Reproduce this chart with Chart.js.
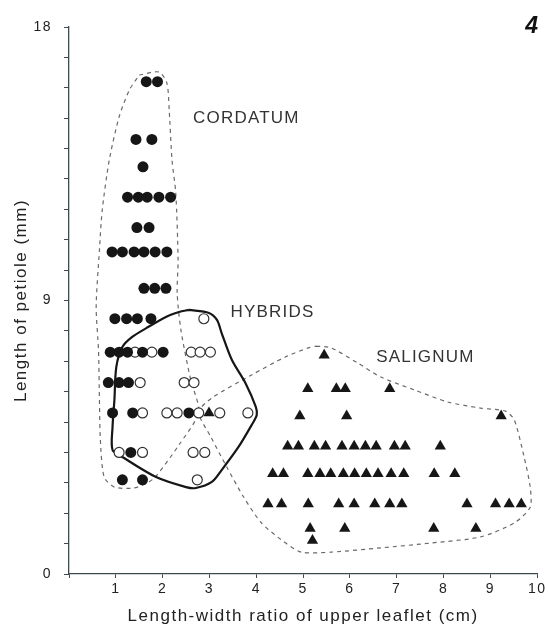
<!DOCTYPE html>
<html>
<head>
<meta charset="utf-8">
<script src="https://cdn.jsdelivr.net/npm/chart.js@4.4.4/dist/chart.umd.min.js"></script>
<style>
  html, body { margin: 0; padding: 0; background: #fff; }
  #chart { display: block; }
</style>
</head>
<body>
<canvas id="chart" width="548" height="629" style="width:548px;height:629px"></canvas>
<script>
// rows of petiole length (mm) and the leaflet ratios measured in each row
const cordatumRows = [16.2, 14.3, 13.4, 12.4, 11.4, 10.6, 9.4, 8.4, 7.3, 6.3, 5.3, 4.0, 3.1];
const cordatumRatios = [
    [1.65, 1.89],
    [1.43, 1.77],
    [1.58],
    [1.25, 1.48, 1.67, 1.92, 2.17],
    [1.45, 1.71],
    [0.92, 1.14, 1.39, 1.60, 1.84, 2.09],
    [1.60, 1.83, 2.07],
    [0.98, 1.23, 1.46, 1.75],
    [0.88, 1.07, 1.25, 1.57, 2.01],
    [0.84, 1.07, 1.27],
    [0.93, 1.36, 2.56],
    [1.32],
    [1.14, 1.57]
];

const hybridRows = [8.4, 7.3, 6.3, 5.3, 4.0, 3.1];
const hybridRatios = [
    [2.88],
    [1.41, 1.77, 2.61, 2.80, 3.02],
    [1.52, 2.46, 2.67],
    [1.57, 2.09, 2.31, 2.77, 3.22, 3.82],
    [1.07, 1.57, 2.65, 2.90],
    [2.74]
];

const salignumRows = [7.2, 6.1, 5.2, 5.3, 4.2, 3.3, 2.3, 1.5, 1.1];
const salignumRatios = [
    [5.45],
    [5.10, 5.71, 5.90, 6.85],
    [4.93, 5.93, 9.23],
    [2.99],
    [4.67, 4.90, 5.24, 5.48, 5.83, 6.09, 6.33, 6.56, 6.95, 7.18, 7.93],
    [4.35, 4.58, 5.10, 5.36, 5.59, 5.86, 6.10, 6.35, 6.60, 6.88, 7.15, 7.80, 8.24],
    [4.25, 4.54, 5.11, 5.76, 6.09, 6.53, 6.85, 7.11, 8.50, 9.11, 9.40, 9.66],
    [5.15, 5.89, 7.79, 8.69],
    [5.20]
];

// hand-drawn group envelopes (ratio, mm)
const cordatumOutline = [
    [1.50, 16.42], [1.92, 16.52], [2.09, 16.16], [2.14, 15.27], [2.20, 13.62], [2.28, 12.54],
    [2.33, 10.33], [2.31, 9.25], [2.39, 8.03], [2.60, 6.38], [2.77, 5.33], [2.35, 4.25],
    [1.86, 3.22], [1.71, 3.03], [1.39, 2.83], [0.97, 2.86], [0.75, 3.19], [0.67, 4.41],
    [0.65, 5.73], [0.63, 7.37], [0.58, 8.79], [0.65, 10.66], [0.71, 11.98], [0.86, 13.62],
    [1.07, 15.04], [1.29, 15.93], [1.50, 16.42]
];
const hybridOutline = [
    [2.56, 8.69], [2.99, 8.59], [3.16, 8.36], [3.26, 7.93], [3.48, 7.04], [3.77, 6.28],
    [3.99, 5.50], [4.01, 5.23], [3.90, 4.90], [3.62, 4.18], [3.26, 3.42], [3.05, 3.03],
    [2.71, 2.83], [2.50, 2.86], [1.86, 3.19], [1.14, 3.85], [0.93, 4.08], [0.93, 4.84],
    [0.97, 5.73], [1.01, 6.81], [1.14, 7.47], [1.35, 7.80], [1.65, 8.09], [2.07, 8.46],
    [2.35, 8.62], [2.56, 8.69]
];
const salignumOutline = [
    [5.28, 7.50], [5.60, 7.44], [6.17, 6.94], [6.66, 6.48], [7.39, 6.05], [8.09, 5.66],
    [8.79, 5.46], [9.32, 5.36], [9.51, 5.07], [9.72, 3.85], [9.85, 2.86], [9.85, 2.20],
    [9.51, 1.68], [8.79, 1.22], [7.73, 1.02], [6.66, 0.86], [5.60, 0.72], [4.96, 0.72],
    [4.54, 1.12], [4.11, 1.68], [3.73, 2.53], [3.37, 3.52], [3.03, 4.51], [2.77, 5.33],
    [3.05, 5.79], [3.90, 6.55], [4.62, 7.14], [5.11, 7.44], [5.28, 7.50]
];

const groupNames = ['CORDATUM', 'HYBRIDS', 'SALIGNUM'];
const groupNameAt = [[2.65, 15.0], [3.45, 8.6], [6.56, 7.14]];

const xTicks = [1, 2, 3, 4, 5, 6, 7, 8, 9, 10];
const yTickLabels = [0, 9, 18];

const ink = '#161616';
const axisColor = '#3d4b50';
const fontFamily = '"Liberation Sans", Arial, sans-serif';

function toPoints(rows, ratios) {
    const pts = [];
    rows.forEach((y, i) => ratios[i].forEach(x => pts.push({ x, y })));
    return pts;
}

function toLine(outline) {
    return outline.map(p => ({ x: p[0], y: p[1] }));
}

// the printed figure is set with wide letter spacing
const spacing = {
    id: 'spacing',
    beforeDraw(chart) {
        chart.ctx.letterSpacing = '1.5px';
    }
};

const groupLabels = {
    id: 'groupLabels',
    afterDatasetsDraw(chart) {
        const { ctx, scales: { x, y } } = chart;
        ctx.save();
        ctx.letterSpacing = '1.2px';
        ctx.fillStyle = '#333';
        ctx.textBaseline = 'middle';
        ctx.font = '17px ' + fontFamily;
        groupNames.forEach((name, i) => {
            ctx.fillText(name, x.getPixelForValue(groupNameAt[i][0]), y.getPixelForValue(groupNameAt[i][1]));
        });
        ctx.letterSpacing = '0px';
        ctx.fillStyle = '#111';
        ctx.font = 'italic bold 23px ' + fontFamily;
        ctx.textAlign = 'right';
        ctx.fillText('4', 538, 27);
        ctx.restore();
    }
};

const outlineStyle = {
    type: 'line',
    showLine: true,
    fill: false,
    pointRadius: 0,
    borderColor: '#6a6a6a',
    borderWidth: 1.2,
    borderDash: [4, 4],
    tension: 0.25,
    order: 3
};

new Chart(document.getElementById('chart'), {
    type: 'scatter',
    data: {
        datasets: [
            { ...outlineStyle, label: 'cordatum envelope', data: toLine(cordatumOutline) },
            { ...outlineStyle, label: 'salignum envelope', data: toLine(salignumOutline) },
            {
                ...outlineStyle, label: 'hybrid envelope', data: toLine(hybridOutline),
                borderColor: ink, borderWidth: 2.2, borderDash: [], tension: 0.3, order: 2
            },
            {
                label: 'Cordatum',
                data: toPoints(cordatumRows, cordatumRatios),
                pointStyle: 'circle', pointRadius: 5.5,
                backgroundColor: ink, borderColor: ink, borderWidth: 0, order: 1
            },
            {
                label: 'Hybrids',
                data: toPoints(hybridRows, hybridRatios),
                pointStyle: 'circle', pointRadius: 5,
                backgroundColor: '#fff', borderColor: '#333', borderWidth: 1.2, order: 1
            },
            {
                label: 'Salignum',
                data: toPoints(salignumRows, salignumRatios),
                pointStyle: 'triangle', pointRadius: 6.5,
                backgroundColor: ink, borderColor: ink, borderWidth: 0, order: 1
            }
        ]
    },
    options: {
        responsive: false,
        animation: false,
        layout: { padding: { top: 27, right: 8, bottom: 0, left: 0 } },
        plugins: {
            legend: { display: false },
            tooltip: { enabled: false }
        },
        scales: {
            x: {
                type: 'linear',
                min: 0,
                max: 10,
                afterFit: s => { s.height = 55; },
                afterBuildTicks: s => { s.ticks = [0].concat(xTicks).map(v => ({ value: v })); },
                ticks: {
                    color: '#222',
                    font: { family: fontFamily, size: 14 },
                    padding: 3,
                    callback: v => (xTicks.includes(v) ? String(v) : '')
                },
                grid: { drawOnChartArea: false, color: axisColor, tickLength: 4 },
                border: { color: axisColor, width: 1.3 },
                title: {
                    display: true,
                    text: 'Length-width ratio of upper leaflet (cm)',
                    color: '#222',
                    font: { family: fontFamily, size: 17 },
                    padding: { top: 0, bottom: 2 }
                }
            },
            y: {
                type: 'linear',
                min: 0,
                max: 18,
                afterFit: s => { s.width = 69; },
                ticks: {
                    stepSize: 1,
                    autoSkip: false,
                    color: '#222',
                    font: { family: fontFamily, size: 14 },
                    padding: 12,
                    callback: v => (yTickLabels.includes(v) ? String(v) : '')
                },
                grid: { drawOnChartArea: false, color: axisColor, tickLength: 5 },
                border: { color: axisColor, width: 1.3 },
                title: {
                    display: true,
                    text: 'Length of petiole (mm)',
                    color: '#222',
                    font: { family: fontFamily, size: 17 },
                    padding: { top: 11, bottom: 0 }
                }
            }
        }
    },
    plugins: [spacing, groupLabels]
});
</script>
</body>
</html>
